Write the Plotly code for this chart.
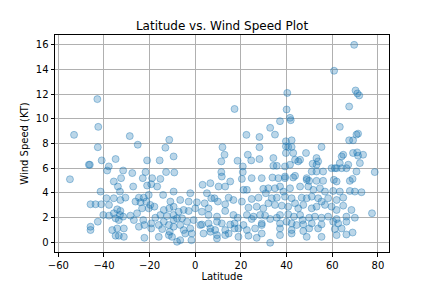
import plotly.graph_objects as go

# upper / sparse points
pts_upper = [
(-42.9,11.6),(-42.5,9.35),(-53.1,8.7),(-28.7,8.6),(-25.2,7.9),(-42.7,7.7),(-11.4,8.3),(-13.1,7.66),
(17.2,10.8),(22.4,8.7),(28.1,8.53),(11.9,7.7),(28.1,7.7),(40.3,12.1),(32.8,9.27),
(69.6,16.0),(60.8,13.9),(70.2,12.3),(71.0,12.06),(71.8,11.9),(67.4,11.0),
(-9.5,6.95),(-41.0,6.63),(-34.9,6.74),(-21.1,6.63),(-15.6,6.63),(-46.6,6.28),(-46.2,6.28),(-37.9,6.14),
(-38.6,5.81),(-31.6,5.81),(-27.6,5.6),(-21.8,5.68),(-12.8,5.68),(-54.9,5.1),(-9.2,5.65),
(12.8,7.09),(23.0,7.09),(24.5,6.63),(18.5,6.6),(11.4,6.55),(28.1,6.74),(34.2,6.82),
(11.4,5.68),(20.8,5.68),(20.8,6.14),
]
# southern / low latitudes, low speeds
pts_a = [
(-35.7,4.92),(-32.5,5.19),(-23.0,5.19),(-18.9,5.19),(-15.3,5.13),(-19.3,4.70),(-33.9,4.51),(-27.2,4.51),(-21.1,4.59),(-16.7,4.51),
(-41.5,4.10),(-33.0,4.10),(-38.9,3.56),(-35.7,3.56),(-30.6,3.61),(-24.7,3.61),(-22.6,3.61),(-20.4,3.83),(-14.1,3.83),(-9.5,4.10),
(-45.9,3.07),(-43.7,3.07),(-41.2,3.07),(-37.8,3.02),(-32.8,3.42),(-26.2,3.29),(-24.0,3.23),(-21.5,3.29),(-19.7,3.02),
(-23.3,2.74),(-20.4,2.74),(-17.9,2.88),(-10.9,3.29),(-9.5,2.88),(-6.6,3.42),(-13.8,2.61),(-11.4,2.74),
(-34.2,2.66),(-32.8,2.53),(-35.7,2.34),(-33.0,2.20),(-40.3,2.20),(-37.8,2.15),(-31.6,2.07),(-28.4,2.15),(-25.5,2.34),(-15.3,2.20),(-12.4,2.12),(-9.5,2.20),(-7.3,2.47),
(-42.7,1.66),(-45.9,1.25),(-34.9,1.93),(-33.5,1.79),(-26.9,1.79),(-22.8,1.79),(-19.3,1.52),(-17.5,1.98),(-13.8,1.66),(-9.5,1.79),(-8.0,1.93),
(-16.0,1.39),(-11.6,1.39),(-9.5,1.25),(-6.6,1.39),
(-36.4,0.98),(-34.2,1.11),(-31.3,1.11),(-24.7,1.25),(-22.3,1.39),(-19.3,1.11),(-14.5,1.06),(-11.2,0.84),(-45.9,0.98),
(-34.9,0.52),(-33.5,0.52),(-31.3,0.43),(-22.3,0.35),(-16.0,0.43),(-11.6,0.57),(-10.2,0.43),(-8.0,0.03),(-6.6,0.16),
]
# equatorial / mid latitudes, low speeds
pts_b = [
(11.6,5.32),(15.3,4.92),(20.4,5.13),(24.7,5.19),(29.1,5.19),(33.8,5.24),
(3.2,4.65),(6.6,4.78),(10.2,4.51),(13.1,4.51),(21.1,4.24),(22.6,4.24),(29.8,4.32),(32.0,4.37),
(-2.2,3.97),(5.1,3.97),(7.0,3.56),(8.4,3.56),(14.6,3.61),(16.7,3.42),(24.7,3.50),(27.7,3.61),(30.9,3.97),(33.5,3.56),
(-2.9,3.29),(0.7,3.23),(4.1,3.15),(5.8,2.74),(9.9,3.29),(13.1,3.07),(20.4,3.29),(23.3,2.80),(26.9,2.88),(29.8,2.74),(32.0,3.15),
(-5.1,2.61),(-2.9,2.53),(0.0,2.74),(2.9,2.47),(5.8,2.20),(9.5,2.07),(13.1,2.53),(16.7,2.20),(18.6,1.98),(22.6,2.20),(25.5,2.07),(28.4,2.20),(30.6,2.15),
(-5.8,1.93),(-3.6,1.66),(-0.7,1.79),(2.9,1.43),(5.8,1.52),(9.5,1.66),(11.6,1.52),(15.3,1.43),(17.2,1.52),(21.1,1.39),(24.7,1.88),(29.1,1.52),(32.8,1.88),
(-5.1,0.98),(-2.2,1.11),(2.2,1.39),(6.6,1.11),(8.7,0.98),(13.1,0.98),(17.2,1.11),(18.9,1.11),(22.6,0.98),(26.2,1.11),(29.1,1.39),
(-4.4,0.70),(-1.5,0.70),(3.6,0.70),(6.6,0.84),(9.5,0.57),(13.1,0.57),(14.6,0.70),(18.9,0.43),(23.3,0.52),(26.9,0.35),(29.1,0.70),
(-1.7,0.16),(9.5,0.30),(32.8,-0.05),
]
# northern latitudes, low speeds
pts_c = [
(36.4,5.19),(39.3,5.19),(42.9,5.24),(48.8,5.05),(49.9,4.97),(53.1,4.97),(56.0,4.97),(60.7,5.05),(61.9,4.92),(67.7,4.97),(68.9,5.13),
(34.9,4.37),(37.1,4.51),(38.6,4.10),(41.5,4.37),(45.9,4.51),(49.5,4.51),(51.7,4.24),(54.6,4.37),(56.8,4.10),(60.4,4.15),(63.3,4.10),(67.7,4.15),(69.9,4.10),(72.8,4.05),
(35.7,3.61),(39.3,3.69),(42.2,3.56),(46.6,3.61),(48.8,3.56),(51.0,3.69),(53.8,3.56),(55.3,3.29),(58.2,3.56),(61.9,3.42),(64.8,3.61),
(34.9,3.02),(37.9,2.96),(40.7,2.88),(43.7,3.15),(45.1,2.74),(47.3,3.02),(51.0,2.74),(53.1,2.88),(56.8,3.02),(59.7,2.88),(61.9,2.61),(64.8,2.96),(68.4,2.61),(77.4,2.34),
(37.1,2.20),(35.7,1.98),(40.7,2.26),(43.2,2.07),(45.9,2.20),(47.0,1.79),(49.9,1.98),(52.4,2.07),(55.3,1.98),(58.2,2.07),(61.9,1.87),(66.2,2.07),(69.9,1.98),
(37.1,1.52),(40.0,1.66),(42.2,1.52),(44.4,1.39),(47.3,1.44),(51.0,1.52),(55.3,1.44),(60.4,1.66),(62.6,1.52),(66.2,1.66),
(37.1,1.11),(42.2,0.98),(47.3,0.90),(49.9,1.11),(53.8,1.11),(61.1,1.06),(64.1,1.11),
(37.1,0.57),(42.2,0.70),(48.8,0.43),(55.3,0.43),(61.9,0.57),(66.2,0.62),(68.9,0.78),
]
# northern latitudes, moderate speeds
pts_d = [
(40.0,10.76),(37.1,9.81),(41.5,10.08),(41.8,9.89),(34.9,8.72),(63.3,9.35),(71.3,8.80),(70.6,8.72),(67.4,8.26),(69.1,8.26),(39.7,8.18),(42.2,8.26),
(39.7,7.77),(40.7,7.72),(42.2,7.72),(55.3,7.72),(39.7,7.23),(42.9,7.23),(48.5,7.23),(53.1,6.82),(64.1,6.95),(64.8,7.09),(69.1,7.23),(70.9,7.28),(71.3,7.01),(73.5,7.09),
(43.7,6.68),(45.9,6.68),(45.1,6.55),(53.8,6.55),(51.4,6.36),(53.1,6.28),(63.3,6.41),(64.1,6.00),(67.0,6.28),(66.2,6.00),
(34.2,6.19),(35.7,6.19),(39.3,6.14),(41.5,6.28),(59.7,6.00),(61.1,6.00),(72.1,6.41),
(51.0,5.73),(53.1,5.73),(56.0,5.73),(70.6,5.73),(78.6,5.68),(39.3,5.32),(43.7,5.38),(48.8,5.19),(61.9,6.00),
]

all_pts = pts_upper + pts_a + pts_b + pts_c + pts_d
latitude = [p[0] for p in all_pts]
wind_speed = [p[1] for p in all_pts]

x_ticks = [-60, -40, -20, 0, 20, 40, 60, 80]
y_ticks = [0, 2, 4, 6, 8, 10, 12, 14, 16]

fig = go.Figure(go.Scatter(
    x=latitude, y=wind_speed, mode="markers",
    marker=dict(size=7, color="rgba(31,119,180,0.3)",
                line=dict(width=1, color="rgba(31,119,180,0.4)")),
))

font = "DejaVu Sans"
axis_common = dict(
    showline=True, linecolor="black", linewidth=1, mirror=True,
    ticks="outside", ticklen=3.5, tickwidth=1, tickcolor="black",
    showgrid=True, gridcolor="#b0b0b0", gridwidth=0.8, zeroline=False,
    tickfont=dict(family=font, size=10, color="black"), automargin=False,
)
fig.update_layout(
    width=432, height=288,
    margin=dict(l=55, r=43, t=35, b=36),
    paper_bgcolor="white", plot_bgcolor="white",
    showlegend=False,
    title=dict(text="Latitude vs. Wind Speed Plot", x=222/432, xanchor="center",
               y=1-26/288, yanchor="middle", font=dict(family=font, size=12, color="black")),
    xaxis=dict(range=[-61.45, 84.85], tickvals=x_ticks,
               title=dict(text="Latitude", standoff=3, font=dict(family=font, size=10, color="black")),
               **axis_common),
    yaxis=dict(range=[-0.8, 16.8], tickvals=y_ticks,
               title=dict(text="Wind Speed (KT)", standoff=5, font=dict(family=font, size=10, color="black")),
               **axis_common),
)
fig.write_html("out.html")
